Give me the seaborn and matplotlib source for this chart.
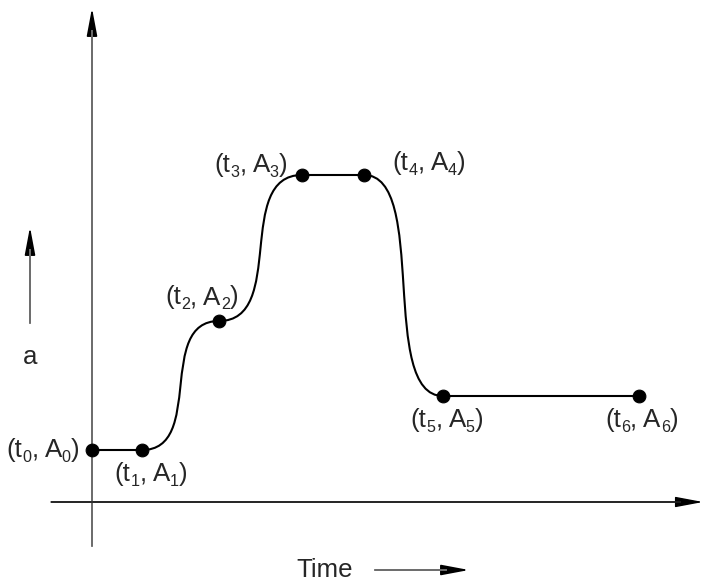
import matplotlib
matplotlib.use('Agg')
import matplotlib.pyplot as plt
import matplotlib.transforms as mtransforms
from matplotlib.font_manager import FontProperties
import seaborn as sns
import pandas as pd
import numpy as np
from matplotlib.path import Path
from matplotlib.patches import PathPatch, FancyArrowPatch, ArrowStyle

# ---- data ----
point_names = ['0', '1', '2', '3', '4', '5', '6']
t_values = [0.0, 1.0, 2.54, 4.2, 5.44, 7.02, 10.94]
a_values = [1.04, 1.04, 3.62, 6.54, 6.54, 2.12, 2.12]
segment_kinds = ['line', 'curve', 'curve', 'line', 'curve', 'line']
axis_label_x = 'Time'
axis_label_y = 'a'

# ---- layout (pixel offsets of label centres from points; +y is up) ----
label_offsets = [(-49, 0), (9, -24), (-17, 24), (-51, 10), (65, 12), (4, -24), (3, -24)]

sns.set_theme(style='white')
plt.rcParams['font.family'] = ['Liberation Sans', 'DejaVu Sans']

fig = plt.figure(figsize=(7.09, 5.87), dpi=100)
ax = fig.add_axes([0, 0, 1, 1])
ax.set_xlim(-1.84, 12.34)
ax.set_ylim(-1.70, 10.04)
ax.set_axis_off()

FS = 18.6
SUB_FS = 11.6
SUB_DROP = 5  # pixels
GRAY = '#707070'


def draw_arrow(x0, y0, x1, y1, shaft_color, lw):
    style = ArrowStyle('-|>', head_length=17, head_width=3.2)
    arr = FancyArrowPatch((x0, y0), (x1, y1), arrowstyle=style, mutation_scale=1,
                          color='black', lw=lw, shrinkA=0, shrinkB=0, zorder=2)
    ax.add_patch(arr)
    L = np.hypot(x1 - x0, y1 - y0)
    ux, uy = (x1 - x0) / L, (y1 - y0) / L
    ax.plot([x0, x1 - ux * 0.45], [y0, y1 - uy * 0.45], color=shaft_color, lw=lw + 0.2,
            solid_capstyle='butt', zorder=2.5)


# axes arrows
draw_arrow(0, -0.88, 0, 9.88, GRAY, 1.2)
draw_arrow(-0.82, 0, 12.22, 0, '#222222', 1.0)
# small "a" arrow and Time arrow
draw_arrow(-1.24, 3.58, -1.24, 5.5, GRAY, 1.2)
draw_arrow(5.66, -1.36, 7.54, -1.36, GRAY, 1.2)
ax.text(-1.24, 2.9, axis_label_y, fontsize=FS, ha='center', va='center')
ax.text(4.66, -1.36, axis_label_x, fontsize=FS, ha='center', va='center')

# curve through the points
verts = [(t_values[0], a_values[0])]
codes = [Path.MOVETO]
k = 0.82
for i, kind in enumerate(segment_kinds):
    x0, y0 = t_values[i], a_values[i]
    x1, y1 = t_values[i + 1], a_values[i + 1]
    if kind == 'line':
        verts.append((x1, y1))
        codes.append(Path.LINETO)
    else:
        dx = x1 - x0
        verts += [(x0 + k * dx, y0), (x1 - k * dx, y1), (x1, y1)]
        codes += [Path.CURVE4] * 3
ax.add_patch(PathPatch(Path(verts, codes), facecolor='none', edgecolor='black', lw=1.5, zorder=3))

df = pd.DataFrame({'t': t_values, 'A': a_values})
sns.scatterplot(data=df, x='t', y='A', s=85, color='black', edgecolor='black', ax=ax, zorder=4)

# labels "(t_i, A_i)" built from pieces with lowered subscripts
renderer = fig.canvas.get_renderer()
main_prop = FontProperties(family='Liberation Sans', size=FS)
sub_prop = FontProperties(family='Liberation Sans', size=SUB_FS)


def width_px(s, prop):
    w, h, d = renderer.get_text_width_height_descent(s, prop, ismath=False)
    return w


for tx, ay, name, (ox, oy) in zip(t_values, a_values, point_names, label_offsets):
    pieces = [('(t', False), (name, True), (', A', False), (name, True), (')', False)]
    widths = [width_px(s, sub_prop if sub else main_prop) for s, sub in pieces]
    total = sum(widths)
    x_cursor = ox - total / 2.0
    baseline = oy - 7
    for (s, sub), w in zip(pieces, widths):
        tr = mtransforms.offset_copy(ax.transData, fig=fig, x=x_cursor,
                                     y=baseline - (SUB_DROP if sub else 0), units='dots')
        ax.text(tx, ay, s, transform=tr, fontproperties=sub_prop if sub else main_prop,
                ha='left', va='baseline')
        x_cursor += w

ax.set_xlim(-1.84, 12.34)
ax.set_ylim(-1.70, 10.04)
fig.savefig('out.png', dpi=100)
